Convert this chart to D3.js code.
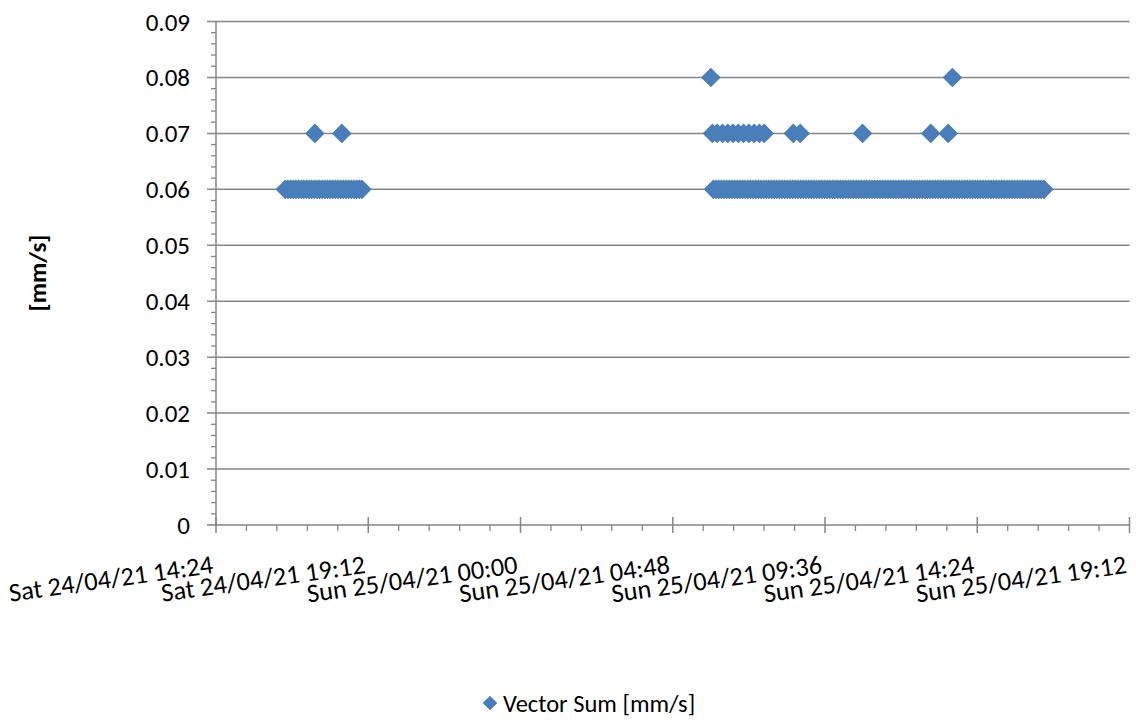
<!DOCTYPE html>
<html><head><meta charset="utf-8">
<script src="https://cdn.jsdelivr.net/npm/d3@7"></script>
<style>
html,body{margin:0;padding:0;background:#fff;}
svg{display:block;font-family:Carlito,Calibri,Lato,sans-serif;}
</style></head>
<body><svg id="chart" width="1136" height="720"></svg>
<script>
// ---- data ----
const seriesName = "Vector Sum [mm/s]";
const yAxisTitle = "[mm/s]";
const satDate = "24/04/21";
const sunDate = "25/04/21";
// readings at 0.06 mm/s
const satTimes006 = ["16:35","16:40","16:45","16:50","16:55","17:00","17:05","17:10","17:15","17:20","17:25","17:30","17:35","17:40","17:45","17:50","17:55","18:00","18:05","18:10","18:15","18:20","18:25","18:30","18:35","18:40","18:45","18:50","18:55","19:00"];
const sunTimes006 = [
 "06:05","06:10","06:15","06:20","06:25","06:30","06:35","06:40","06:45","06:50","06:55",
 "07:00","07:05","07:10","07:15","07:20","07:25","07:30","07:35","07:40","07:45","07:50","07:55",
 "08:00","08:05","08:10","08:15","08:20","08:25","08:30","08:35","08:40","08:45","08:50","08:55",
 "09:00","09:05","09:10","09:15","09:20","09:25","09:30","09:35","09:40","09:45","09:50","09:55",
 "10:00","10:05","10:10","10:15","10:20","10:25","10:30","10:35","10:40","10:45","10:50","10:55",
 "11:00","11:05","11:10","11:15","11:20","11:25","11:30","11:35","11:40","11:45","11:50","11:55",
 "12:00","12:05","12:10","12:15","12:20","12:25","12:30","12:35","12:40","12:45","12:50","12:55",
 "13:00","13:05","13:10","13:15","13:20","13:25","13:30","13:35","13:40","13:45","13:50","13:55",
 "14:00","14:05","14:10","14:15","14:20","14:25","14:30","14:35","14:40","14:45","14:50","14:55",
 "15:00","15:05","15:10","15:15","15:20","15:25","15:30","15:35","15:40","15:45","15:50","15:55",
 "16:00","16:05","16:10","16:15","16:20","16:25","16:30"];
// readings at 0.07 mm/s
const satTimes007 = ["17:31","18:22"];
const sunTimes007 = ["06:03","06:12","06:22","06:32","06:42","06:52","07:02","07:12","07:22","07:32","07:41","08:36","08:49","10:47","12:56","13:29"];
// readings at 0.08 mm/s
const sunTimes008 = ["06:00","13:37"];
const levelValues = [0.06, 0.07, 0.08];

const xTickTimes = ["24/04/21 14:24","24/04/21 19:12","25/04/21 00:00","25/04/21 04:48","25/04/21 09:36","25/04/21 14:24","25/04/21 19:12"];
const xTickLabels = ["Sat 24/04/21 14:24","Sat 24/04/21 19:12","Sun 25/04/21 00:00","Sun 25/04/21 04:48","Sun 25/04/21 09:36","Sun 25/04/21 14:24","Sun 25/04/21 19:12"];
const yTickValues = [0,0.01,0.02,0.03,0.04,0.05,0.06,0.07,0.08,0.09];
const yTickLabels = ["0","0.01","0.02","0.03","0.04","0.05","0.06","0.07","0.08","0.09"];

// ---- setup ----
const parse = d3.timeParse("%d/%m/%y %H:%M");
const mk = (date, times, v) => times.map(t => ({t: parse(date + " " + t), v}));
const points = [].concat(
  mk(satDate, satTimes006, levelValues[0]),
  mk(sunDate, sunTimes006, levelValues[0]),
  mk(satDate, satTimes007, levelValues[1]),
  mk(sunDate, sunTimes007, levelValues[1]),
  mk(sunDate, sunTimes008, levelValues[2])
);
const tickDates = xTickTimes.map(parse);

const L = 216, R = 1129.5, T = 21.5, B = 525;
const x = d3.scaleTime().domain([tickDates[0], tickDates[tickDates.length-1]]).range([L, R]);
const y = d3.scaleLinear().domain([0, 0.09]).range([B, T]);

const svg = d3.select("#chart");
const gridCol = "#868686";

// minor tick positions (5 subdivisions per major interval)
const xMinor = [];
for (let i=0;i<tickDates.length-1;i++){
  const a = +tickDates[i], b = +tickDates[i+1];
  for (let k=1;k<5;k++) xMinor.push(new Date(a+(b-a)*k/5));
}
const yMinor = [];
for (let i=0;i<yTickValues.length-1;i++){
  for (let k=1;k<5;k++) yMinor.push(yTickValues[i]+(yTickValues[i+1]-yTickValues[i])*k/5);
}

// horizontal gridlines (extend left as major ticks)
svg.append("g").selectAll("line").data(yTickValues.slice(1)).join("line")
  .attr("x1", L-9).attr("x2", R)
  .attr("y1", d=>y(d)).attr("y2", d=>y(d))
  .attr("stroke", gridCol).attr("stroke-width", 1.5);

// y minor ticks
svg.append("g").selectAll("line").data(yMinor).join("line")
  .attr("x1", L-5).attr("x2", L)
  .attr("y1", d=>y(d)).attr("y2", d=>y(d))
  .attr("stroke", gridCol).attr("stroke-width", 1.3);

// y axis line
svg.append("line").attr("x1", L).attr("x2", L).attr("y1", T-0.5).attr("y2", B+0.5)
  .attr("stroke", gridCol).attr("stroke-width", 1.5);

// x axis line
svg.append("line").attr("x1", L-9).attr("x2", R).attr("y1", B).attr("y2", B)
  .attr("stroke", gridCol).attr("stroke-width", 1.5);

// x major ticks
svg.append("g").selectAll("line").data(tickDates).join("line")
  .attr("x1", d=>x(d)).attr("x2", d=>x(d)).attr("y1", B-8).attr("y2", B+8)
  .attr("stroke", gridCol).attr("stroke-width", 1.5);
// x minor ticks
svg.append("g").selectAll("line").data(xMinor).join("line")
  .attr("x1", d=>x(d)).attr("x2", d=>x(d)).attr("y1", B).attr("y2", B+6)
  .attr("stroke", gridCol).attr("stroke-width", 1.3);

// y tick labels
svg.append("g").selectAll("text").data(yTickValues).join("text")
  .attr("x", L-26).attr("y", d=>y(d)).attr("dy","0.36em")
  .attr("text-anchor","end").attr("font-size", 25).attr("fill","#000")
  .text((d,i)=>yTickLabels[i]);

// x tick labels
svg.append("g").selectAll("text").data(tickDates).join("text")
  .attr("transform", d=>`translate(${x(d)-2},${B+48}) rotate(-8)`)
  .attr("text-anchor","end").attr("font-size", 26.3).attr("fill","#000")
  .text((d,i)=>xTickLabels[i]);

// y axis title
svg.append("text").attr("transform","translate(46,273) rotate(-90)")
  .attr("text-anchor","middle").attr("font-size", 25).attr("font-weight","bold")
  .text(yAxisTitle);

// points
const blue = "#4a7ebb";
const diamond = h => `M0,${-h}L${h},0L0,${h}L${-h},0Z`;
svg.append("g").selectAll("path").data(points).join("path")
  .attr("d", diamond(9.8))
  .attr("transform", d=>`translate(${x(d.t)},${y(d.v)})`)
  .attr("fill", blue);

// legend
const lg = svg.append("g");
lg.append("path").attr("d", diamond(7.3)).attr("transform","translate(490,703)").attr("fill", blue);
lg.append("text").attr("x", 503).attr("y", 712).attr("font-size", 24.5).attr("fill","#000").text(seriesName);
</script>
</body></html>
